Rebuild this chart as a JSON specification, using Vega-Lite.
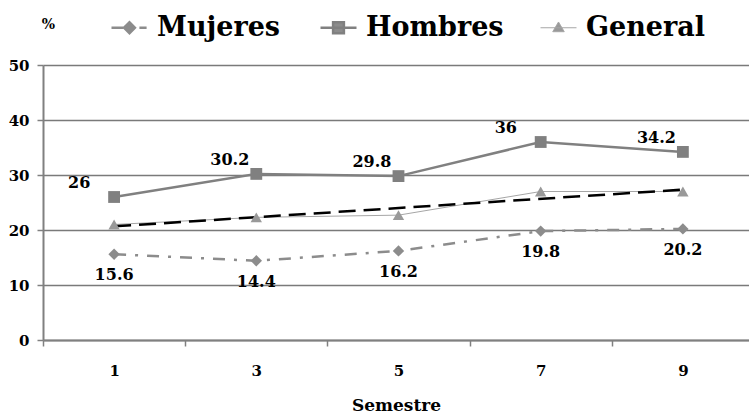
{
  "$schema": "https://vega.github.io/schema/vega-lite/v6.json",
  "width": 706,
  "height": 275,
  "autosize": "none",
  "padding": {"left": 43, "top": 65, "right": 0, "bottom": 73},
  "background": "white",
  "config": {"view": {"stroke": null}, "font": "DejaVu Serif"},
  "data": {
    "values": [
      {"semestre": 1, "serie": "Mujeres", "valor": 15.6},
      {"semestre": 3, "serie": "Mujeres", "valor": 14.4},
      {"semestre": 5, "serie": "Mujeres", "valor": 16.2},
      {"semestre": 7, "serie": "Mujeres", "valor": 19.8},
      {"semestre": 9, "serie": "Mujeres", "valor": 20.2},
      {"semestre": 1, "serie": "Hombres", "valor": 26},
      {"semestre": 3, "serie": "Hombres", "valor": 30.2},
      {"semestre": 5, "serie": "Hombres", "valor": 29.8},
      {"semestre": 7, "serie": "Hombres", "valor": 36},
      {"semestre": 9, "serie": "Hombres", "valor": 34.2},
      {"semestre": 1, "serie": "General", "valor": 21},
      {"semestre": 3, "serie": "General", "valor": 22.3},
      {"semestre": 5, "serie": "General", "valor": 22.7},
      {"semestre": 7, "serie": "General", "valor": 27},
      {"semestre": 9, "serie": "General", "valor": 27}
    ]
  },
  "encoding": {
    "x": {
      "field": "semestre",
      "type": "quantitative",
      "scale": {"domain": [0, 9.93], "nice": false, "zero": false},
      "axis": {
        "values": [1, 3, 5, 7, 9],
        "tickOffset": -71.1,
        "labelOffset": 71.1,
        "grid": false,
        "domainColor": "#808080",
        "domainWidth": 2,
        "tickColor": "#808080",
        "tickWidth": 1.5,
        "tickSize": 6,
        "labelFont": "DejaVu Serif",
        "labelFontWeight": "bold",
        "labelFontSize": 15,
        "labelColor": "#000000",
        "labelPadding": 17,
        "labelFlush": false,
        "title": "Semestre",
        "titleFont": "DejaVu Serif",
        "titleFontWeight": "bold",
        "titleFontSize": 17,
        "titleColor": "#000000",
        "titlePadding": 19
      }
    },
    "y": {
      "field": "valor",
      "type": "quantitative",
      "scale": {"domain": [0, 50], "nice": false},
      "axis": {
        "values": [0, 10, 20, 30, 40, 50],
        "grid": true,
        "gridColor": "#7a7a7a",
        "gridWidth": 1.5,
        "domainColor": "#808080",
        "domainWidth": 2,
        "tickColor": "#808080",
        "tickWidth": 1.5,
        "tickSize": 6,
        "labelFont": "DejaVu Serif",
        "labelFontWeight": "bold",
        "labelFontSize": 15,
        "labelColor": "#000000",
        "labelPadding": 8,
        "title": "%",
        "titleAngle": 0,
        "titleX": 5,
        "titleY": -41,
        "titleAlign": "center",
        "titleBaseline": "middle",
        "titleFont": "DejaVu Serif",
        "titleFontWeight": "bold",
        "titleFontSize": 14,
        "titleColor": "#000000"
      }
    }
  },
  "layer": [
    {
      "transform": [{"filter": "datum.serie === 'General'"}],
      "mark": {"type": "line", "strokeWidth": 1},
      "encoding": {
        "color": {
          "field": "serie",
          "type": "nominal",
          "scale": {"domain": ["Mujeres", "Hombres", "General"], "range": ["#8c8c8c", "#808080", "#a6a6a6"]},
          "legend": {
            "orient": "none",
            "direction": "horizontal",
            "legendX": 73,
            "legendY": -51,
            "padding": 0,
            "title": null,
            "symbolSize": 1296,
            "labelFont": "DejaVu Serif",
            "labelFontWeight": "bold",
            "labelFontSize": 27,
            "labelColor": "#000000",
            "labelOffset": 14,
            "labelLimit": 300,
            "columnPadding": 34,
            "encode": {
              "symbols": {
                "update": {
                  "shape": {"signal": "datum.value === 'Mujeres' ? 'M-1,0H-0.35M-0.3,0L0,-0.3L0.3,0L0,0.3ZM0.55,0H0.95' : datum.value === 'Hombres' ? 'M-1,0H1M-0.3,-0.3H0.3V0.3H-0.3Z' : 'M-1,0H1M0,-0.32L0.32,0.22H-0.32Z'"},
                  "size": {"value": 1296},
                  "strokeWidth": {"signal": "datum.value === 'General' ? 1 : 2.5"},
                  "strokeDash": {"value": []},
                  "stroke": {"signal": "datum.value === 'General' ? '#a6a6a6' : '#8c8c8c'"},
                  "fill": {"signal": "datum.value === 'General' ? '#999999' : '#8c8c8c'"},
                  "opacity": {"value": 1}
                }
              }
            }
          }
        }
      }
    },
    {
      "transform": [{"filter": "datum.serie === 'Mujeres'"}],
      "mark": {"type": "line", "strokeWidth": 2.5, "strokeDash": [12, 9, 3, 9]},
      "encoding": {"color": {"field": "serie", "type": "nominal"}}
    },
    {
      "transform": [{"filter": "datum.serie === 'Hombres'"}],
      "mark": {"type": "line", "strokeWidth": 2.5},
      "encoding": {"color": {"field": "serie", "type": "nominal"}}
    },
    {
      "transform": [
        {"filter": "datum.serie === 'General'"},
        {"regression": "valor", "on": "semestre"}
      ],
      "mark": {"type": "line", "color": "#000000", "strokeWidth": 2.5, "strokeDash": [17, 8]},
      "encoding": {}
    },
    {
      "transform": [{"filter": "datum.serie === 'Mujeres'"}],
      "mark": {"type": "point", "filled": true, "opacity": 1, "size": 130, "shape": "diamond", "color": "#8c8c8c"}
    },
    {
      "transform": [{"filter": "datum.serie === 'Hombres'"}],
      "mark": {"type": "point", "filled": true, "opacity": 1, "size": 140, "shape": "square", "color": "#808080"}
    },
    {
      "transform": [{"filter": "datum.serie === 'General'"}],
      "mark": {"type": "point", "filled": true, "opacity": 1, "size": 130, "shape": "triangle-up", "color": "#999999"}
    },
    {
      "transform": [{"filter": "datum.serie === 'Hombres'"}],
      "mark": {"type": "text", "align": "left", "baseline": "middle", "dx": -46, "dy": -14, "font": "DejaVu Serif", "fontWeight": "bold", "fontSize": 16, "color": "#000000"},
      "encoding": {"text": {"field": "valor", "type": "quantitative"}}
    },
    {
      "transform": [{"filter": "datum.serie === 'Mujeres'"}],
      "mark": {"type": "text", "align": "center", "baseline": "middle", "dy": 21, "font": "DejaVu Serif", "fontWeight": "bold", "fontSize": 16, "color": "#000000"},
      "encoding": {"text": {"field": "valor", "type": "quantitative"}}
    }
  ]
}
